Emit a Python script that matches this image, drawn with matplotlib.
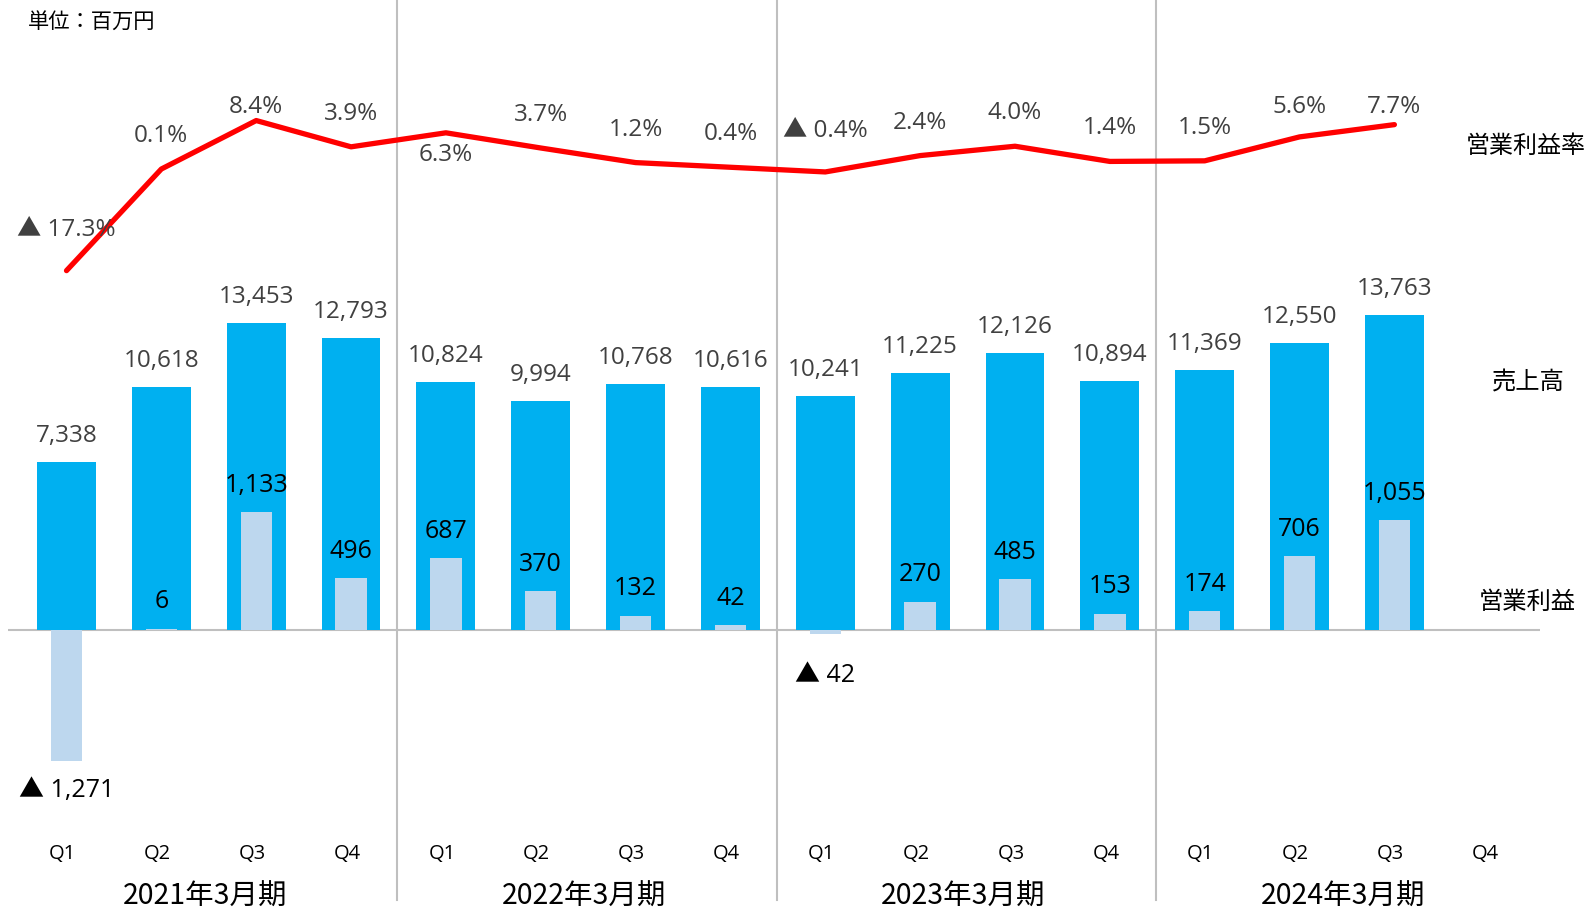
import matplotlib
matplotlib.use("Agg")
import matplotlib.pyplot as plt
import matplotlib.transforms as mtransforms
import numpy as np

plt.rcParams['font.family'] = ['Noto Sans CJK JP', 'DejaVu Sans']
NUM_FONT = ['Open Sans', 'Noto Sans CJK JP', 'DejaVu Sans']

# data
years = ['2021年3月期', '2022年3月期', '2023年3月期', '2024年3月期']
quarters = ['Q1', 'Q2', 'Q3', 'Q4']
sales = [7338, 10618, 13453, 12793, 10824, 9994, 10768, 10616,
         10241, 11225, 12126, 10894, 11369, 12550, 13763]
profit = [-1271, 6, 1133, 496, 687, 370, 132, 42,
          -42, 270, 485, 153, 174, 706, 1055]
margin = [-17.3, 0.1, 8.4, 3.9, 6.3, 3.7, 1.2, 0.4,
          -0.4, 2.4, 4.0, 1.4, 1.5, 5.6, 7.7]

SALES_C = '#00B0F0'
PROFIT_C = '#BDD7EE'
GRAY_TXT = '#404040'
LINE_C = '#BFBFBF'

W, H = 1587, 907
fig = plt.figure(figsize=(W / 100, H / 100), dpi=100)

# layout in pixels (from top-left)
ax_left, ax_right, ax_top, ax_bot = 8, 1540, 60, 810
x0, dx = 66.5, 94.85
zero_px = 629.5
sales_k = 0.02282     # px per unit
profit_k = 0.1037
margin_zero_px, margin_k = 169.6, 5.84

ax = fig.add_axes([ax_left / W, 1 - ax_bot / H, (ax_right - ax_left) / W, (ax_bot - ax_top) / H])
ax2 = ax.twinx()
ax3 = ax.twinx()
for a in (ax, ax2, ax3):
    a.set_xlim((ax_left - x0) / dx, (ax_right - x0) / dx)
    a.axis('off')
ax.set_ylim(-(ax_bot - zero_px) / sales_k, (zero_px - ax_top) / sales_k)
ax2.set_ylim(-(ax_bot - zero_px) / profit_k, (zero_px - ax_top) / profit_k)
ax3.set_ylim(-(ax_bot - margin_zero_px) / margin_k, (margin_zero_px - ax_top) / margin_k)

x = np.arange(len(sales))

ax.bar(x, sales, width=0.62, color=SALES_C, zorder=2)
ax.axhline(0, color=LINE_C, lw=1.5, zorder=1)
ax2.bar(x, profit, width=0.33, color=PROFIT_C, zorder=3)
ax3.plot(x, margin, color='#FF0000', lw=3.8, solid_capstyle='round', zorder=4)


def fmt(v, pct=False):
    s = f'{abs(v):.1f}%' if pct else f'{abs(v):,}'
    return ('▲ ' + s) if v < 0 else s


for i, v in enumerate(sales):
    ax.annotate(fmt(v), (i, v), xytext=(0, 26), textcoords='offset pixels',
                ha='center', va='center', fontsize=17.5, color=GRAY_TXT, family=NUM_FONT)

profit_dy = {8: -42}
for i, v in enumerate(profit):
    dy = profit_dy.get(i, 27 if v >= 0 else -29)
    ax2.annotate(fmt(v), (i, v), xytext=(0, dy), textcoords='offset pixels',
                 ha='center', va='center', fontsize=18, color='black', zorder=5,
                 family=NUM_FONT)

margin_dy = {0: 41, 2: 14, 4: -22, 8: 41, 13: 30, 14: 18}
for i, v in enumerate(margin):
    ax3.annotate(fmt(v, pct=True), (i, v), xytext=(0, margin_dy.get(i, 33)),
                 textcoords='offset pixels', ha='center', va='center',
                 fontsize=17.5, color=GRAY_TXT, zorder=5, family=NUM_FONT)

# category labels below the plot
trans = mtransforms.blended_transform_factory(ax.transData, fig.transFigure)
shift = mtransforms.ScaledTranslation(-4 / 100, 0, fig.dpi_scale_trans)
sep_shift = mtransforms.ScaledTranslation(-1 / 100, 0, fig.dpi_scale_trans)
for k in range(16):
    ax.text(k, 1 - 854 / H, quarters[k % 4], transform=trans + shift, ha='center', va='center',
            fontsize=14.5, color='black', clip_on=False, family=NUM_FONT)
for j, yl in enumerate(years):
    ax.text(4 * j + 1.5, 1 - 897 / H, yl, transform=trans + shift, ha='center', va='center',
            fontsize=20.5, color='black', clip_on=False)
for j in range(1, 4):
    ax.plot([4 * j - 0.5] * 2, [1, 1 - 900 / H], transform=trans + sep_shift, color=LINE_C,
            lw=1.5, clip_on=False, zorder=0)

# side labels
fig.text(28 / W, 1 - 23 / H, '単位：百万円', ha='left', va='center', fontsize=15.3, color='black')
fig.text(1526 / W, 1 - 146 / H, '営業利益率', ha='center', va='center', fontsize=17.3, color='black')
fig.text(1528 / W, 1 - 383 / H, '売上高', ha='center', va='center', fontsize=17.5, color='black')
fig.text(1527 / W, 1 - 602 / H, '営業利益', ha='center', va='center', fontsize=17.5, color='black')

fig.savefig('out.png', dpi=100)
